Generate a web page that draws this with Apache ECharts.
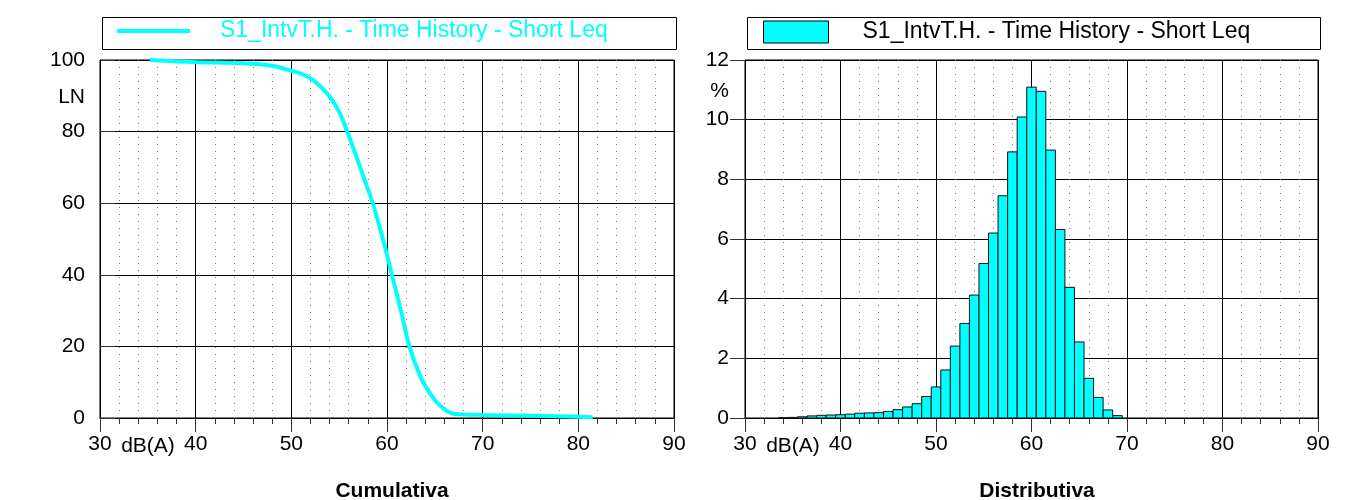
<!DOCTYPE html>
<html>
<head>
<meta charset="utf-8">
<title>Cumulativa / Distributiva</title>
<script src="https://cdn.jsdelivr.net/npm/echarts@6.0.0/dist/echarts.min.js"></script>
<style>
  html, body { margin: 0; padding: 0; background: #fff; }
  #chart { width: 1356px; height: 500px; }
</style>
</head>
<body>
<div id="chart"></div>
<script>
// serie name shown in both legends
const seriesLabel = 'S1_IntvT.H. - Time History - Short Leq';

// cumulative curve (dB(A) -> LN %)
const cumDb = [35.2, 40, 45, 48, 50, 51, 52, 53, 54, 55, 55.85, 56.8, 57.7, 58.57, 59.6, 60, 60.5, 61.36, 62.35, 63.5, 64.5, 65.2, 65.9, 66.5, 67.1, 70, 75, 80, 81.5];
const cumLn = [100, 99.4, 99.1, 98.4, 97.0, 96.2, 94.9, 92.7, 89.8, 85.5, 80.0, 73.0, 66.2, 59.5, 49.7, 45.5, 40.1, 31.1, 20.0, 11.5, 6.9, 4.4, 2.7, 1.6, 1.1, 0.84, 0.6, 0.35, 0.2];

// distribution histogram, 1 dB bins (centre) -> %
const binDb = [34, 35, 36, 37, 38, 39, 40, 41, 42, 43, 44, 45, 46, 47, 48, 49, 50, 51, 52, 53, 54, 55, 56, 57, 58, 59, 60, 61, 62, 63, 64, 65, 66, 67, 68, 69];
const binPct = [0.01, 0.02, 0.04, 0.07, 0.09, 0.10, 0.11, 0.13, 0.16, 0.17, 0.18, 0.22, 0.28, 0.37, 0.48, 0.72, 1.04, 1.61, 2.41, 3.17, 4.12, 5.18, 6.20, 7.45, 8.92, 10.09, 11.09, 10.95, 8.98, 6.32, 4.38, 2.55, 1.33, 0.69, 0.27, 0.08];

// axis ticks
const xTicks = { min: 30, max: 90, interval: 10 };
const lnTicks = { min: 0, max: 100, interval: 20 };
const pctTicks = { min: 0, max: 12, interval: 2 };

const FONT = "'Liberation Sans', Arial, Helvetica, sans-serif";
const CYAN = '#00ffff';

const myChart = echarts.init(document.getElementById('chart'), null, { renderer: 'canvas' });

function xAxisCfg(gridIndex) {
  return {
    type: 'value', gridIndex: gridIndex,
    min: xTicks.min, max: xTicks.max, interval: xTicks.interval,
    axisLine: { show: true, onZero: false, lineStyle: { color: '#000', width: 1 } },
    axisTick: { show: true, inside: false, length: 14, lineStyle: { color: '#333' } },
    minorTick: { show: true, splitNumber: 5, length: 6, lineStyle: { color: '#333' } },
    splitLine: { show: true, lineStyle: { color: '#000', width: 1 } },
    minorSplitLine: { show: true, lineStyle: { color: '#777', width: 1, type: [1, 6] } },
    axisLabel: { fontSize: 21, color: '#000', fontFamily: FONT, margin: 16 }
  };
}

function yAxisCfg(gridIndex, t, tickInside, margin) {
  return {
    type: 'value', gridIndex: gridIndex,
    min: t.min, max: t.max, interval: t.interval,
    axisLine: { show: true, lineStyle: { color: '#000', width: 1 } },
    axisTick: { show: true, inside: tickInside, length: 15, lineStyle: { color: '#333' } },
    splitLine: { show: true, lineStyle: { color: '#000', width: 1 } },
    axisLabel: { fontSize: 21, color: '#000', fontFamily: FONT, margin: margin }
  };
}

// histogram bar from x-0.5 to x+0.5 through the axis scale
function renderBin(params, api) {
  const x = api.value(0);
  const y = api.value(1);
  const p0 = api.coord([x - 0.5, y]);
  const p1 = api.coord([x + 0.5, 0]);
  return {
    type: 'rect',
    shape: { x: p0[0], y: p0[1], width: p1[0] - p0[0], height: p1[1] - p0[1] },
    style: { fill: CYAN, stroke: '#111', lineWidth: 1 }
  };
}

function unitText(text, x, y, align) {
  return {
    type: 'text', x: x, y: y,
    style: { text: text, font: '21px ' + FONT, fill: '#000', textAlign: align, textVerticalAlign: 'middle' }
  };
}

const option = {
  animation: false,
  backgroundColor: '#fff',
  textStyle: { fontFamily: FONT },
  title: [
    { text: 'Cumulativa', left: 387, top: 476, textAlign: 'center',
      textStyle: { fontSize: 21, fontWeight: 'bold', color: '#000', fontFamily: FONT } },
    { text: 'Distributiva', left: 1032, top: 476, textAlign: 'center',
      textStyle: { fontSize: 21, fontWeight: 'bold', color: '#000', fontFamily: FONT } }
  ],
  legend: [
    {
      data: [{ name: 'cum', icon: 'rect', itemStyle: { color: CYAN, borderWidth: 0 } }],
      left: 117, top: 19, padding: 0,
      itemWidth: 73, itemHeight: 4,
      selectedMode: false,
      formatter: () => seriesLabel,
      textStyle: { fontSize: 23, color: CYAN, fontFamily: FONT, lineHeight: 24, padding: [0, 0, 0, 25] }
    },
    {
      data: [{ name: 'dist', icon: 'rect', itemStyle: { color: CYAN, borderColor: '#000', borderWidth: 1 } }],
      left: 763, top: 20, padding: 0,
      itemWidth: 65, itemHeight: 22,
      selectedMode: false,
      formatter: () => seriesLabel,
      textStyle: { fontSize: 23, color: '#000', fontFamily: FONT, lineHeight: 24, padding: [0, 0, 0, 29] }
    }
  ],
  grid: [
    { left: 100, right: 682, top: 60, bottom: 82, show: true, borderColor: '#000', borderWidth: 1, backgroundColor: '#fff' },
    { left: 745, right: 38, top: 60, bottom: 82, show: true, borderColor: '#000', borderWidth: 1, backgroundColor: '#fff' }
  ],
  xAxis: [xAxisCfg(0), xAxisCfg(1)],
  yAxis: [yAxisCfg(0, lnTicks, true, 15), yAxisCfg(1, pctTicks, false, 16)],
  graphic: [
    // legend frames
    { type: 'rect', left: 100, top: 15, shape: { width: 574, height: 32 }, style: { fill: 'none', stroke: '#000', lineWidth: 1 }, z: 0 },
    { type: 'rect', left: 745, top: 15, shape: { width: 573, height: 32 }, style: { fill: 'none', stroke: '#000', lineWidth: 1 }, z: 0 },
    // unit labels
    unitText('LN', 85, 97, 'right'),
    unitText('%', 729, 91, 'right'),
    unitText('dB(A)', 148, 446, 'center'),
    unitText('dB(A)', 793, 446, 'center')
  ],
  series: [
    {
      name: 'cum', type: 'line', xAxisIndex: 0, yAxisIndex: 0,
      data: cumDb.map((d, i) => [d, cumLn[i]]),
      showSymbol: false, smooth: 0.3,
      lineStyle: { color: CYAN, width: 4 },
      itemStyle: { color: CYAN },
      z: 5
    },
    {
      name: 'dist', type: 'custom', xAxisIndex: 1, yAxisIndex: 1,
      renderItem: renderBin,
      encode: { x: 0, y: 1 },
      data: binDb.map((d, i) => [d, binPct[i]]),
      itemStyle: { color: CYAN },
      z: 5
    }
  ]
};

myChart.setOption(option);
</script>
</body>
</html>
